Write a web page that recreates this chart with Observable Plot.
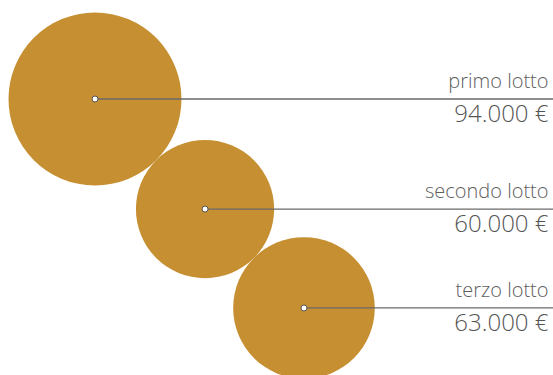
<!DOCTYPE html>
<html>
<head>
<meta charset="utf-8">
<script src="https://cdn.jsdelivr.net/npm/d3@7"></script>
<script src="https://cdn.jsdelivr.net/npm/@observablehq/plot@0.6"></script>
<style>
  html, body { margin: 0; padding: 0; background: #fff; }
  #chart svg { display: block; }
</style>
</head>
<body>
<div id="chart"></div>
<script>
const labels = ["primo lotto", "secondo lotto", "terzo lotto"];
const values = [94000, 60000, 63000];
const valueLabels = ["94.000 €", "60.000 €", "63.000 €"];

const W = 553, H = 375;
const maxR = 86.5;
const start = [94.5, 98.5];

const rScale = Plot.scale({r: {type: "sqrt", domain: [0, d3.max(values)], range: [0, maxR]}});
const radii = values.map(v => rScale.apply(v));

// place circles tangent along a 45° diagonal
const data = [];
let cx = start[0], cy = start[1];
values.forEach((v, i) => {
  if (i > 0) {
    const step = (radii[i - 1] + radii[i]) / Math.SQRT2;
    cx += step; cy += step;
  }
  data.push({label: labels[i], value: v, text: valueLabels[i], cx, cy, xe: W});
});

const font = "'Open Sans', Lato, sans-serif";

const chart = Plot.plot({
  width: W,
  height: H,
  margin: 0,
  x: {type: "identity", axis: null},
  y: {type: "identity", axis: null},
  r: {type: "sqrt", domain: [0, d3.max(values)], range: [0, maxR]},
  style: {fontFamily: font, background: "#fff"},
  marks: [
    Plot.dot(data, {x: "cx", y: "cy", r: "value", fill: "#c68f31", stroke: "none"}),
    Plot.link(data, {x1: "cx", y1: "cy", x2: "xe", y2: "cy", stroke: "#6a6a6a", strokeWidth: 1.3}),
    Plot.dot(data, {x: "cx", y: "cy", r: 3, fill: "#fff", stroke: "#555", strokeWidth: 1}),
    Plot.text(data, {y: "cy", frameAnchor: "right", text: "label", textAnchor: "end", lineAnchor: "bottom", dx: -5, dy: -11, fontSize: 20, fontWeight: 300, letterSpacing: 1.2, fill: "#5e5e5e"}),
    Plot.text(data, {y: "cy", frameAnchor: "right", text: "text", textAnchor: "end", lineAnchor: "top", dx: -5, dy: 6, fontSize: 24, fontWeight: 300, letterSpacing: 0.3, fill: "#555"})
  ]
});
document.getElementById("chart").append(chart);
</script>
</body>
</html>
